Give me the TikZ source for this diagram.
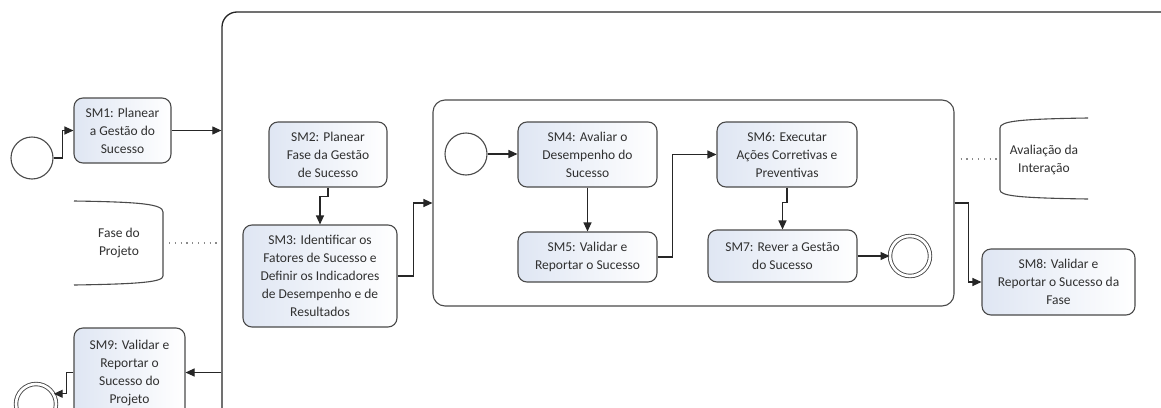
\documentclass[tikz,border=0pt]{standalone}
\usepackage{fontspec}
\setmainfont{Carlito}
\usetikzlibrary{arrows.meta}
\definecolor{ink}{HTML}{262626}
\definecolor{edge}{HTML}{4A4A4A}
\definecolor{boxtint}{HTML}{DFE6F3}
\definecolor{txt}{HTML}{303030}
\definecolor{dots}{HTML}{8A8A8A}
\tikzset{
  lbl/.style={align=center, text=txt, font=\fontsize{13.5}{18}\selectfont},
  task/.style={lbl, draw=edge, line width=1.1pt, rounded corners=9pt,
    left color=boxtint, right color=white, inner sep=0pt},
  event/.style={circle, draw=edge, line width=1.1pt, fill=white,
    minimum size=42pt, inner sep=0pt},
  endevent/.style={event, minimum size=40pt, double=white, double distance=2.6pt, line width=0.9pt},
  pool/.style={draw=ink, line width=1.3pt, rounded corners=15pt, inner sep=0pt},
  subproc/.style={draw=edge, line width=1.1pt, rounded corners=12pt, inner sep=0pt},
  conn/.style={draw=ink, line width=1.1pt, -{Triangle[length=9pt,width=8pt]}},
  assoc/.style={draw=dots, line width=1.2pt, dash pattern=on 1.2pt off 4.6pt},
  bracket/.style={draw=edge, line width=1.1pt},
}
\begin{document}
\begin{tikzpicture}[x=1pt,y=-1pt]
\useasboundingbox (0,0) rectangle (1161,407);
\fill[white] (0,0) rectangle (1161,407);
\clip (0,0) rectangle (1161,407);

% containers
\node[pool, minimum width=958pt, minimum height=428pt] (outer) at (701,226) {};
\node[subproc, minimum width=521pt, minimum height=206pt] (inner) at (693.5,203) {};

% events
\node[event] (start1) at (32,158) {};
\node[endevent] (end1) at (36,404) {};
\node[event] (start2) at (466,154) {};
\node[endevent] (end2) at (910,256) {};

% tasks
\node[task, minimum width=97pt, minimum height=65pt] (sm1) at (122.5,130.5)
  {SM1: Planear\\a Gestão do\\Sucesso};
\node[task, minimum width=118pt, minimum height=65pt] (sm2) at (328,154.5)
  {SM2: Planear\\Fase da Gestão\\de Sucesso};
\node[task, minimum width=154pt, minimum height=102pt] (sm3) at (320,276)
  {SM3: Identificar os\\Fatores de Sucesso e\\Definir os Indicadores\\de Desempenho e de\\Resultados};
\node[task, minimum width=139pt, minimum height=65pt] (sm4) at (587.5,154.5)
  {SM4: Avaliar o\\Desempenho do\\Sucesso};
\node[task, minimum width=139pt, minimum height=50pt] (sm5) at (587.5,257)
  {SM5: Validar e\\Reportar o Sucesso};
\node[task, minimum width=140pt, minimum height=65pt] (sm6) at (787,154.5)
  {SM6: Executar\\Ações Corretivas e\\Preventivas};
\node[task, minimum width=149pt, minimum height=52pt] (sm7) at (782.5,256)
  {SM7: Rever a Gestão\\do Sucesso};
\node[task, minimum width=153pt, minimum height=66pt] (sm8) at (1058.5,282)
  {SM8: Validar e\\Reportar o Sucesso da\\Fase};
\node[task, minimum width=111pt, minimum height=89pt] (sm9) at (129.5,372.5)
  {SM9: Validar e\\Reportar o\\Sucesso do\\Projeto};

% text annotations
\node[lbl] (ann1) at (119,243) {Fase do\\Projeto};
\draw[bracket] (74,201) .. controls (140,202) and (163,204) .. (163,212)
  -- (163,276) .. controls (163,282) and (140,284) .. (74,285);
\coordinate (a1) at (163,243);

\node[lbl] (ann2) at (1044,160) {Avaliação da\\Interação};
\draw[bracket] (1088,118) .. controls (1020,119) and (1000,121) .. (1000,128)
  -- (1000,190) .. controls (1000,196) and (1020,198) .. (1088,199);
\coordinate (a2) at (1000,159);

% associations
\draw[assoc, shorten <=6pt, shorten >=4pt] (a1) -- (a1 -| outer.west);
\draw[assoc, shorten <=6pt] (a2 -| inner.east) -- (a2);

% sequence flows
\draw[conn] (start1.east) -- ++(9,0) |- (sm1.west);
\draw[conn] (sm1.east) -- (sm1.east -| outer.west);
\draw[conn] (sm2.south) -- ++(0,9) -| (sm3.north);
\draw[conn] (sm3.east) -- ++(16,0) |- (inner.west);
\draw[conn] (start2.east) -- (start2.east -| sm4.west);
\draw[conn] (sm4.south) -- (sm5.north);
\draw[conn] (sm5.east) -- ++(15,0) |- (sm6.west);
\draw[conn] (sm6.south) -- ++(0,15) -| (sm7.north);
\draw[conn] (sm7.east) -- (sm7.east -| end2.west);
\draw[conn] (inner.east) -- ++(14,0) |- (sm8.west);
\draw[conn] (sm9.east -| outer.west) -- (sm9.east);
\draw[conn] (sm9.west) -- ++(-7,0) |- (end1.30);
\end{tikzpicture}
\end{document}
